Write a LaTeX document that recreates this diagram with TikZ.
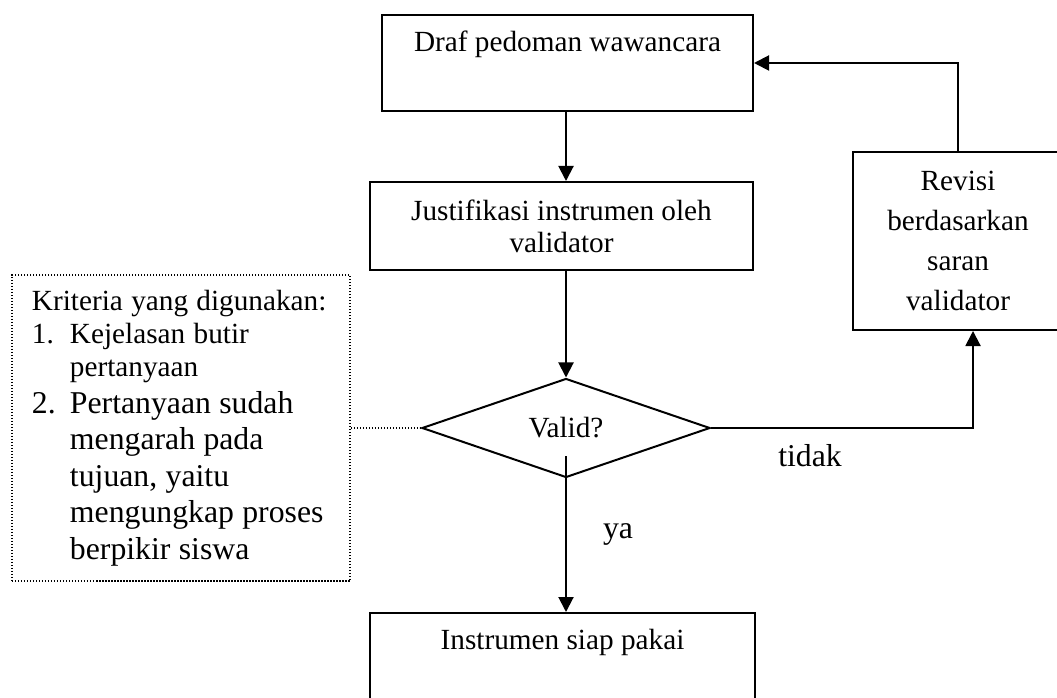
\documentclass[tikz,border=0pt]{standalone}
\usepackage{fontspec}
\setmainfont{Liberation Serif}
\usetikzlibrary{shapes.geometric,arrows.meta}
\newcommand{\fsmain}{\fontsize{11.7}{13.3}\selectfont}
\newcommand{\fsbig}{\fontsize{12.7}{14.6}\selectfont}

\begin{document}
\begin{tikzpicture}[x=0.4pt,y=0.4pt,yscale=-1,xscale=1,
  box/.style={draw,line width=0.8pt,inner sep=0pt,align=center,font=\fsmain},
  topbox/.style={box,text height=8pt,text depth=17pt},
  link/.style={line width=0.8pt,-{Triangle[length=6pt,width=6pt]}},
  dotline/.style={line width=0.6pt,dash pattern=on 0.6pt off 0.6pt}]
%set diagram to the size of the page
\clip (0,0) rectangle (1057,698);

%Flowchart: Process
\node [topbox,minimum width=148.4pt,minimum height=38.4pt] (draf) at (567.5,63) {Draf pedoman wawancara};
%Flowchart: Process
\node [box,minimum width=153.2pt,minimum height=35.2pt,font=\fontsize{11.7}{12.8}\selectfont] (just) at (561.5,226) {Justifikasi instrumen oleh\\validator};
%Flowchart: Decision
\node [box,shape=diamond,shape aspect=2.9,minimum width=115.2pt,minimum height=39.6pt] (valid) at (566,428) {Valid?};
%Flowchart: Process
\node [box,minimum width=84pt,minimum height=71.2pt,font=\fontsize{11.7}{16}\selectfont] (rev) at (958,241) {Revisi\\berdasarkan\\saran\\validator};
%Flowchart: Process
\node [topbox,minimum width=154pt,minimum height=38.4pt] (siap) at (562.5,661) {Instrumen siap pakai};
%Dotted Box
\node [draw,dotline,inner xsep=8pt,inner ysep=0pt,text width=119.2pt,minimum height=122.4pt,align=left] (krit) at (181,428) {\parindent=0pt
  {\fsmain Kriteria yang digunakan:\par}
  {\fsmain \makebox[15.2pt][l]{1.}Kejelasan butir\\\hspace*{15.2pt}pertanyaan\par}
  {\fsbig \makebox[15.2pt][l]{2.}Pertanyaan sudah\\\hspace*{15.2pt}mengarah pada\\\hspace*{15.2pt}tujuan, yaitu\\\hspace*{15.2pt}mengungkap proses\\\hspace*{15.2pt}berpikir siswa\par}};

%Straight Lines
\draw [link] (draf.south -| valid) -- (valid |- just.north);
%Straight Lines
\draw [link] (valid |- just.south) -- (valid.north);
%Straight Lines
\draw [link] (valid.east) -| ([xshift=6pt]rev.south);
%Straight Lines
\draw [link] (rev.north) |- (draf.east);
%Straight Lines
\coordinate (yatop) at (566,456);
\draw [link] (yatop) -- (yatop |- siap.north);
%Dotted Lines
\draw [dotline] (krit.east) -- (valid.west);

% Text Node
\node [font=\fsbig] (ya) at (618,534) {ya};
% Text Node
\node [font=\fsbig] (tidak) at (810,456) {tidak};

\end{tikzpicture}
\end{document}
